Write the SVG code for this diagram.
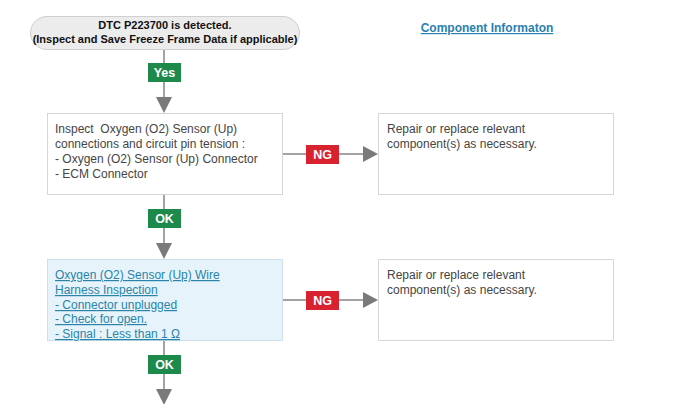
<svg xmlns="http://www.w3.org/2000/svg" width="691" height="404" viewBox="0 0 691 404">
<style>
.t{font-family:"Liberation Sans",Arial,sans-serif;font-size:12px;fill:#454545;white-space:pre}
.b{font-family:"Liberation Sans",Arial,sans-serif;font-size:11px;font-weight:bold;fill:#111}
.lnk{font-family:"Liberation Sans",Arial,sans-serif;font-size:12px;fill:#2a84aa;text-decoration:underline}
.box{fill:#fff;stroke:#d6d6d6;stroke-width:1}
.badge{font-family:"Liberation Sans",Arial,sans-serif;font-size:12.5px;font-weight:bold;fill:#fff;text-anchor:middle}
.ln{stroke:#858585;stroke-width:1.5;fill:none}
.arr{fill:#7a7a7a}
</style>
<rect width="691" height="404" fill="#fff"/>
<g id="connectors">
<line class="ln" x1="164" y1="49" x2="164" y2="98"/>
<polygon class="arr" points="156,97 172,97 164,113"/>
<line class="ln" x1="164" y1="194" x2="164" y2="244"/>
<polygon class="arr" points="156,243 172,243 164,259"/>
<line class="ln" x1="164" y1="340" x2="164" y2="390"/>
<polygon class="arr" points="156,389 172,389 164,405"/>
<line class="ln" x1="282" y1="154" x2="364" y2="154"/>
<polygon class="arr" points="363,146 363,162 378,154"/>
<line class="ln" x1="282" y1="300" x2="364" y2="300"/>
<polygon class="arr" points="363,292 363,308 378,300"/>
<g id="yes"><rect x="148" y="63" width="33" height="19" fill="#1d8a4b"/><text class="badge" x="164.5" y="77">Yes</text></g>
<g id="ok1"><rect x="148" y="209" width="33" height="19" fill="#1d8a4b"/><text class="badge" x="164.5" y="223">OK</text></g>
<g id="ok2"><rect x="148" y="355" width="33" height="19" fill="#1d8a4b"/><text class="badge" x="164.5" y="369">OK</text></g>
<g id="ng1"><rect x="306" y="145" width="33" height="19" fill="#d92230"/><text class="badge" x="322.5" y="159">NG</text></g>
<g id="ng2"><rect x="306" y="291" width="33" height="19" fill="#d92230"/><text class="badge" x="322.5" y="305">NG</text></g>
</g>
<g id="start">
<rect x="30.5" y="16.5" width="269" height="33" rx="16.5" fill="#ececec" stroke="#cfcfcf"/>
<text class="b" x="165" y="29" text-anchor="middle">DTC P223700 is detected.</text>
<text class="b" x="165" y="43" text-anchor="middle">(Inspect and Save Freeze Frame Data if applicable)</text>
</g>
<g id="component-info">
<text x="487" y="32" text-anchor="middle" style="font-family:'Liberation Sans',Arial,sans-serif;font-size:12px;font-weight:bold;fill:#2a7fae;text-decoration:underline">Component Informaton</text>
</g>
<g id="inspect-connectors">
<rect class="box" x="47.5" y="113.5" width="235" height="81"/>
<text class="t" x="55" y="133">Inspect  Oxygen (O2) Sensor (Up)</text>
<text class="t" x="55" y="148">connections and circuit pin tension :</text>
<text class="t" x="55" y="163">- Oxygen (O2) Sensor (Up) Connector</text>
<text class="t" x="55" y="178">- ECM Connector</text>
</g>
<g id="repair1">
<rect class="box" x="378.5" y="113.5" width="235" height="81"/>
<text class="t" x="387" y="133">Repair or replace relevant</text>
<text class="t" x="387" y="148">component(s) as necessary.</text>
</g>
<g id="harness-inspection">
<rect x="47.5" y="259.5" width="235" height="81" fill="#e6f3fa" stroke="#cfe0ea"/>
<text class="lnk" x="55" y="279">Oxygen (O2) Sensor (Up) Wire</text>
<text class="lnk" x="55" y="294">Harness Inspection</text>
<text class="lnk" x="55" y="309">- Connector unplugged</text>
<text class="lnk" x="55" y="323">- Check for open.</text>
<text class="lnk" x="55" y="338">- Signal : Less than 1 Ω</text>
</g>
<g id="repair2">
<rect class="box" x="378.5" y="259.5" width="235" height="81"/>
<text class="t" x="387" y="279">Repair or replace relevant</text>
<text class="t" x="387" y="294">component(s) as necessary.</text>
</g>
</svg>
